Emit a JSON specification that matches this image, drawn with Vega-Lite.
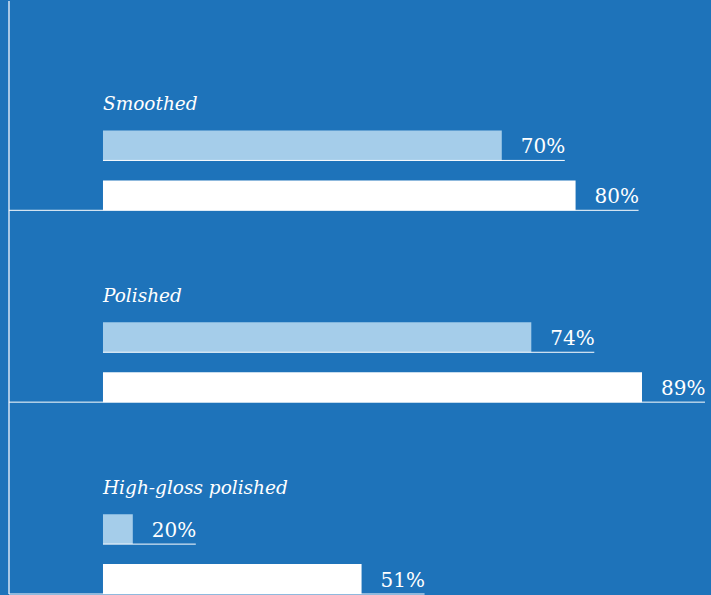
{
  "$schema": "https://vega.github.io/schema/vega-lite/v6.json",
  "width": 711,
  "height": 595,
  "autosize": {"type": "fit", "contains": "padding"},
  "padding": 0,
  "background": "#1e73ba",
  "config": {"view": {"stroke": null}, "font": "DejaVu Serif"},
  "data": {
    "values": [
      {"group": "Smoothed", "series": "A", "value": 0.70},
      {"group": "Smoothed", "series": "B", "value": 0.80},
      {"group": "Polished", "series": "A", "value": 0.74},
      {"group": "Polished", "series": "B", "value": 0.89},
      {"group": "High-gloss polished", "series": "A", "value": 0.20},
      {"group": "High-gloss polished", "series": "B", "value": 0.51}
    ]
  },
  "resolve": {"scale": {"yOffset": "independent"}},
  "layer": [
    {
      "mark": {"type": "rule", "color": "#a9c9e6", "strokeWidth": 1.5},
      "encoding": {
        "x": {"datum": 0.0322, "type": "quantitative", "scale": {"domain": [0.02005, 0.9835], "nice": false, "zero": false}, "axis": null}
      }
    },
    {
      "mark": {"type": "bar"},
      "encoding": {
        "y": {"field": "group", "type": "nominal", "sort": null, "axis": null,
              "scale": {"paddingInner": 0.584, "paddingOuter": 0.3375, "align": 1, "round": false}},
        "yOffset": {"field": "series", "type": "nominal", "scale": {"type": "band", "paddingInner": 0.4, "paddingOuter": 0, "round": false}},
        "x": {"field": "value", "type": "quantitative", "axis": null},
        "x2": {"datum": 0.1596},
        "color": {"field": "series", "type": "nominal", "legend": null,
                  "scale": {"domain": ["A", "B"], "range": ["#a5cdea", "#ffffff"]}}
      }
    },
    {
      "transform": [{"filter": "datum.series === 'A'"}],
      "mark": {"type": "rule", "color": "#ffffff", "strokeWidth": 1, "xOffset": 63},
      "encoding": {
        "y": {"field": "group", "type": "nominal", "sort": null},
        "yOffset": {"field": "series", "type": "nominal", "scale": {"type": "point", "domain": ["A", "B"], "padding": 0.3, "align": 1, "round": false}},
        "x": {"field": "value", "type": "quantitative"},
        "x2": {"datum": 0.1596}
      }
    },
    {
      "transform": [{"filter": "datum.series === 'B'"}],
      "mark": {"type": "rule", "color": "#ffffff", "strokeWidth": 1, "xOffset": 63},
      "encoding": {
        "y": {"field": "group", "type": "nominal", "sort": null},
        "yOffset": {"field": "series", "type": "nominal", "scale": {"type": "point", "domain": ["A", "B"], "padding": 0.3, "align": 1, "round": false}},
        "x": {"field": "value", "type": "quantitative"},
        "x2": {"datum": 0.0322}
      }
    },
    {
      "mark": {"type": "text", "align": "left", "baseline": "alphabetic", "dx": 19, "dy": 8, "fontSize": 20, "color": "#ffffff"},
      "encoding": {
        "y": {"field": "group", "type": "nominal", "sort": null},
        "yOffset": {"field": "series", "type": "nominal", "scale": {"type": "point", "domain": ["A", "B"], "padding": 0.3, "align": 0.5, "round": false}},
        "x": {"field": "value", "type": "quantitative"},
        "text": {"field": "value", "type": "quantitative", "format": ".0%"}
      }
    },
    {
      "transform": [{"filter": "datum.series === 'A'"}],
      "mark": {"type": "text", "align": "left", "baseline": "alphabetic", "dy": -60, "fontSize": 18.5, "fontStyle": "italic", "color": "#ffffff"},
      "encoding": {
        "y": {"field": "group", "type": "nominal", "sort": null},
        "x": {"datum": 0.1596},
        "text": {"field": "group", "type": "nominal"}
      }
    }
  ]
}
